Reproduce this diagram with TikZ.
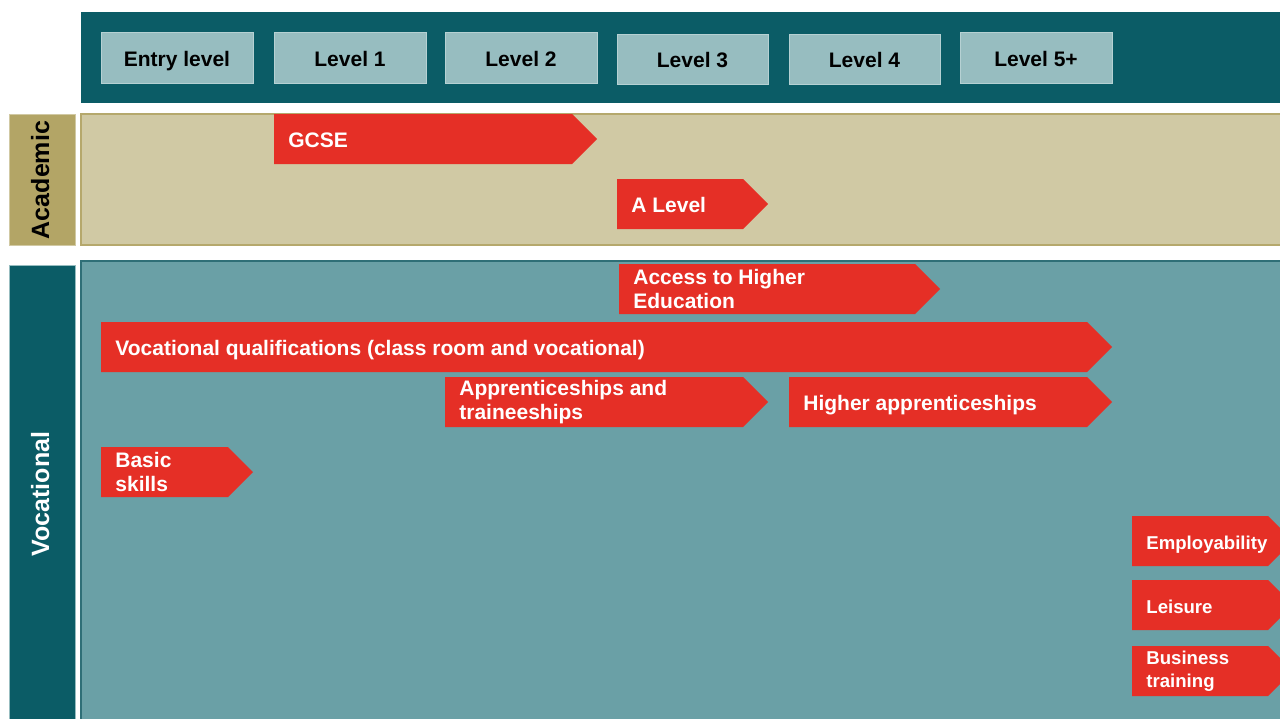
\documentclass[tikz,border=0pt]{standalone}
\usepackage{fontspec}
\setmainfont{Liberation Sans}
\definecolor{hdr}{HTML}{0B5C66}
\definecolor{lvl}{HTML}{97BDC0}
\definecolor{acad}{HTML}{D0C9A4}
\definecolor{acadlab}{HTML}{B3A566}
\definecolor{acadline}{HTML}{B5A86C}
\definecolor{voc}{HTML}{6AA0A6}
\definecolor{vocline}{HTML}{2F6F77}
\definecolor{qred}{HTML}{E52F26}
\tikzset{
  lvlbox/.style={fill=lvl,draw=lvl!70!white,line width=0.4pt},
  oneline/.style={text height=0.716em,text depth=0pt},
  lvltext/.style={font=\bfseries\fontsize{10.5}{12.5}\selectfont,text=black,inner sep=0pt,oneline,yshift=-0.8pt},
  qtext/.style={font=\bfseries\fontsize{10.5}{12.25}\selectfont,text=white,inner sep=0pt,anchor=west,align=left},
  qone/.style={oneline,yshift=-0.8pt},
  qsmall/.style={font=\bfseries\fontsize{9.3}{11.5}\selectfont},
  labtext/.style={font=\bfseries\fontsize{12.5}{14}\selectfont,rotate=90,inner sep=0pt,oneline},
}
% name, x-left, x-tip, y-top, extra style, text
\newcommand{\qarr}[6]{%
  \fill[qred] (#2,#4) -- ({#3-25},#4) -- (#3,{#4+25}) -- ({#3-25},{#4+50}) -- (#2,{#4+50}) -- cycle;
  \node[qtext,#5] (#1) at ({#2+14},{#4+25}) {#6};
}
\begin{document}
\begin{tikzpicture}[x=0.5pt,y=-0.5pt]
\useasboundingbox (0,0) rectangle (1280,718);
\clip (0,0) rectangle (1280,718);
\fill[white] (0,0) rectangle (1280,718);
% header
\fill[hdr] (81,12) rectangle (1285,103);
\draw[lvlbox] (101,32) rectangle (253,83) node[lvltext,midway] (le) {Entry level};
\draw[lvlbox] (274,32) rectangle (426,83) node[lvltext,midway] (l1) {Level 1};
\draw[lvlbox] (445,32) rectangle (597,83) node[lvltext,midway] (l2) {Level 2};
\draw[lvlbox] (617,34) rectangle (768,84) node[lvltext,midway] (l3) {Level 3};
\draw[lvlbox] (789,34) rectangle (940,84) node[lvltext,midway] (l4) {Level 4};
\draw[lvlbox] (960,32) rectangle (1112,83) node[lvltext,midway] (l5) {Level 5+};
% academic
\draw[fill=acad,draw=acadline,line width=0.8pt] (81,114) rectangle (1285,245);
\draw[fill=acadlab,draw=acadlab!60!white,line width=0.5pt] (9,114) rectangle (75,245);
\node[labtext,text=black] (acl) at (42,180) {Academic};
% vocational
\draw[fill=voc,draw=vocline,line width=0.8pt] (81,261) rectangle (1285,725);
\draw[fill=hdr,draw=lvl,line width=0.5pt] (9,265) rectangle (75,725);
\node[labtext,text=white] (vcl) at (42,494) {Vocational};
% arrows
\qarr{gcse}{274}{597}{114}{qone}{GCSE}
\qarr{alev}{617}{768}{179}{qone}{A Level}
\qarr{acc}{619}{940}{264}{}{Access to Higher\\Education}
\qarr{vq}{101}{1112}{322}{qone}{Vocational qualifications (class room and vocational)}
\qarr{app}{445}{768}{377}{}{Apprenticeships and\\traineeships}
\qarr{happ}{789}{1112}{377}{qone}{Higher apprenticeships}
\qarr{basic}{101}{253}{447}{}{Basic\\skills}
\qarr{emp}{1132}{1293}{516}{qsmall,qone}{Employability}
\qarr{leis}{1132}{1293}{580}{qsmall,qone}{Leisure}
\qarr{bus}{1132}{1293}{646}{qsmall}{Business\\training}
\end{tikzpicture}
\end{document}
